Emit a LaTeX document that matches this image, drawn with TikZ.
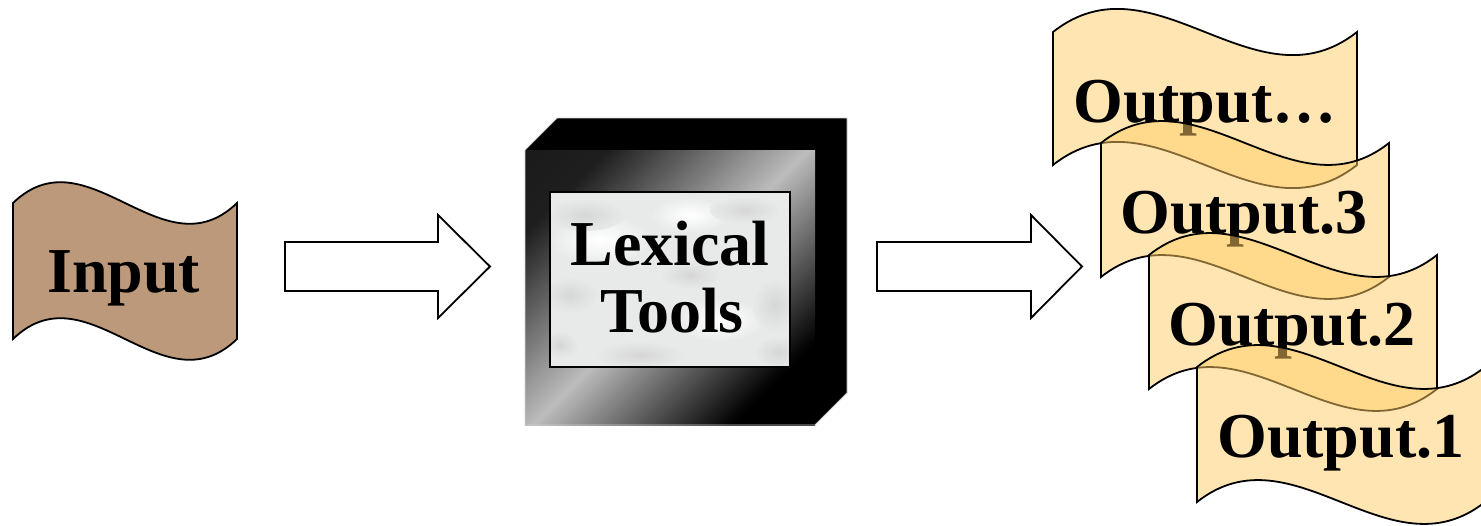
\documentclass[tikz,border=0pt]{standalone}
\usepackage{fontspec}
\setmainfont{Liberation Serif}
\definecolor{inputfill}{RGB}{188,153,122}
\definecolor{outfill}{RGB}{255,204,102}
\definecolor{shadelight}{RGB}{188,188,188}
\definecolor{marble}{RGB}{232,234,234}
\pgfdeclarehorizontalshading{cubefront}{100bp}{color(0bp)=(black!92); color(25bp)=(black!88); color(50bp)=(shadelight); color(75bp)=(black); color(100bp)=(black)}
\tikzset{
  doctext/.style={font=\fontsize{64}{70}\selectfont\bfseries, inner sep=0pt, anchor=base west},
  boxtext/.style={font=\fontsize{64}{70}\selectfont\bfseries, inner sep=0pt, anchor=base},
  outline/.style={draw=black, line width=1.8pt, line join=miter},
  outdoc/.style={outline, fill=outfill, fill opacity=0.5},
  indoc/.style={outline, fill=inputfill},
  blockarrow/.style={draw=black, line width=1.8pt, fill=white, line join=miter},
  blob/.style={inner color=gray!32, outer color=marble},
  wblob/.style={inner color=white, outer color=marble},
}
% #1 style, #2 x, #3 y (top-left), #4 width, #5 height, #6 wave amplitude
\newcommand\wavedoc[6]{%
  \draw[#1] (#2,#3) .. controls ({#2+#4/3},{#3-#6}) and ({#2+2*#4/3},{#3+#6}) .. ({#2+#4},#3)
    -- ({#2+#4},{#3+#5}) .. controls ({#2+2*#4/3},{#3+#5+#6}) and ({#2+#4/3},{#3+#5-#6}) .. (#2,{#3+#5}) -- cycle;}
\begin{document}
\begin{tikzpicture}[x=1pt,y=-1pt]
\useasboundingbox (0,0) rectangle (1481,525);

% Input document
\wavedoc{indoc}{13}{203}{224}{136}{72}
\node[doctext] (in) at (47,292) {Input};

% first block arrow
\draw[blockarrow] (285,242) -- (438,242) -- (438,215) -- (490,266.5) -- (438,318) -- (438,291) -- (285,291) -- cycle;

% cube
\fill[black] (525,150) -- (557,118) -- (847,118) -- (847,393) -- (815,425) -- (815,150) -- cycle;
\shade[shading=cubefront, shading angle=-45] (525,150) rectangle (815,425);
\draw[gray!35, line width=0.8pt] (525,425) -- (525,150) -- (557,118) -- (847,118) -- (847,393) -- (815,425) -- cycle;
\begin{scope}
  \clip (550,192) rectangle (790,367);
  \fill[marble] (550,192) rectangle (790,367);
  \shade[wblob] (600,240) ellipse [x radius=50, y radius=25];
  \shade[wblob] (720,320) ellipse [x radius=45, y radius=22];
  \shade[wblob] (690,215) ellipse [x radius=40, y radius=18];
  \shade[blob] (585,215) ellipse [x radius=40, y radius=16];
  \shade[blob] (745,210) ellipse [x radius=35, y radius=14];
  \shade[blob] (775,305) ellipse [x radius=22, y radius=28];
  \shade[blob] (778,352) ellipse [x radius=24, y radius=16];
  \shade[blob] (570,295) ellipse [x radius=28, y radius=18];
  \shade[blob] (640,355) ellipse [x radius=45, y radius=14];
  \shade[blob] (690,275) ellipse [x radius=30, y radius=14];
  \shade[blob] (560,345) ellipse [x radius=18, y radius=14];
\end{scope}
\draw[black, line width=1.5pt] (550,192) rectangle (790,367);
\node[boxtext] (lex1) at (670,265) {Lexical};
\node[boxtext] (lex2) at (672,332) {Tools};

% second block arrow
\draw[blockarrow] (877,242) -- (1031,242) -- (1031,215) -- (1082,266.5) -- (1031,318) -- (1031,291) -- (877,291) -- cycle;

% output documents (later ones drawn over earlier ones, semi-transparent)
\wavedoc{outdoc}{1053}{32}{304}{133}{80}
\node[doctext] (o4) at (1073,122) {Output…};
\wavedoc{outdoc}{1101}{143}{288}{134}{76}
\node[doctext] (o3) at (1120,233) {Output.3};
\wavedoc{outdoc}{1149}{255}{288}{134}{76}
\node[doctext] (o2) at (1168,345) {Output.2};
\wavedoc{outdoc}{1197}{367}{288}{135}{76}
\node[doctext] (o1) at (1217,457) {Output.1};
\end{tikzpicture}
\end{document}
